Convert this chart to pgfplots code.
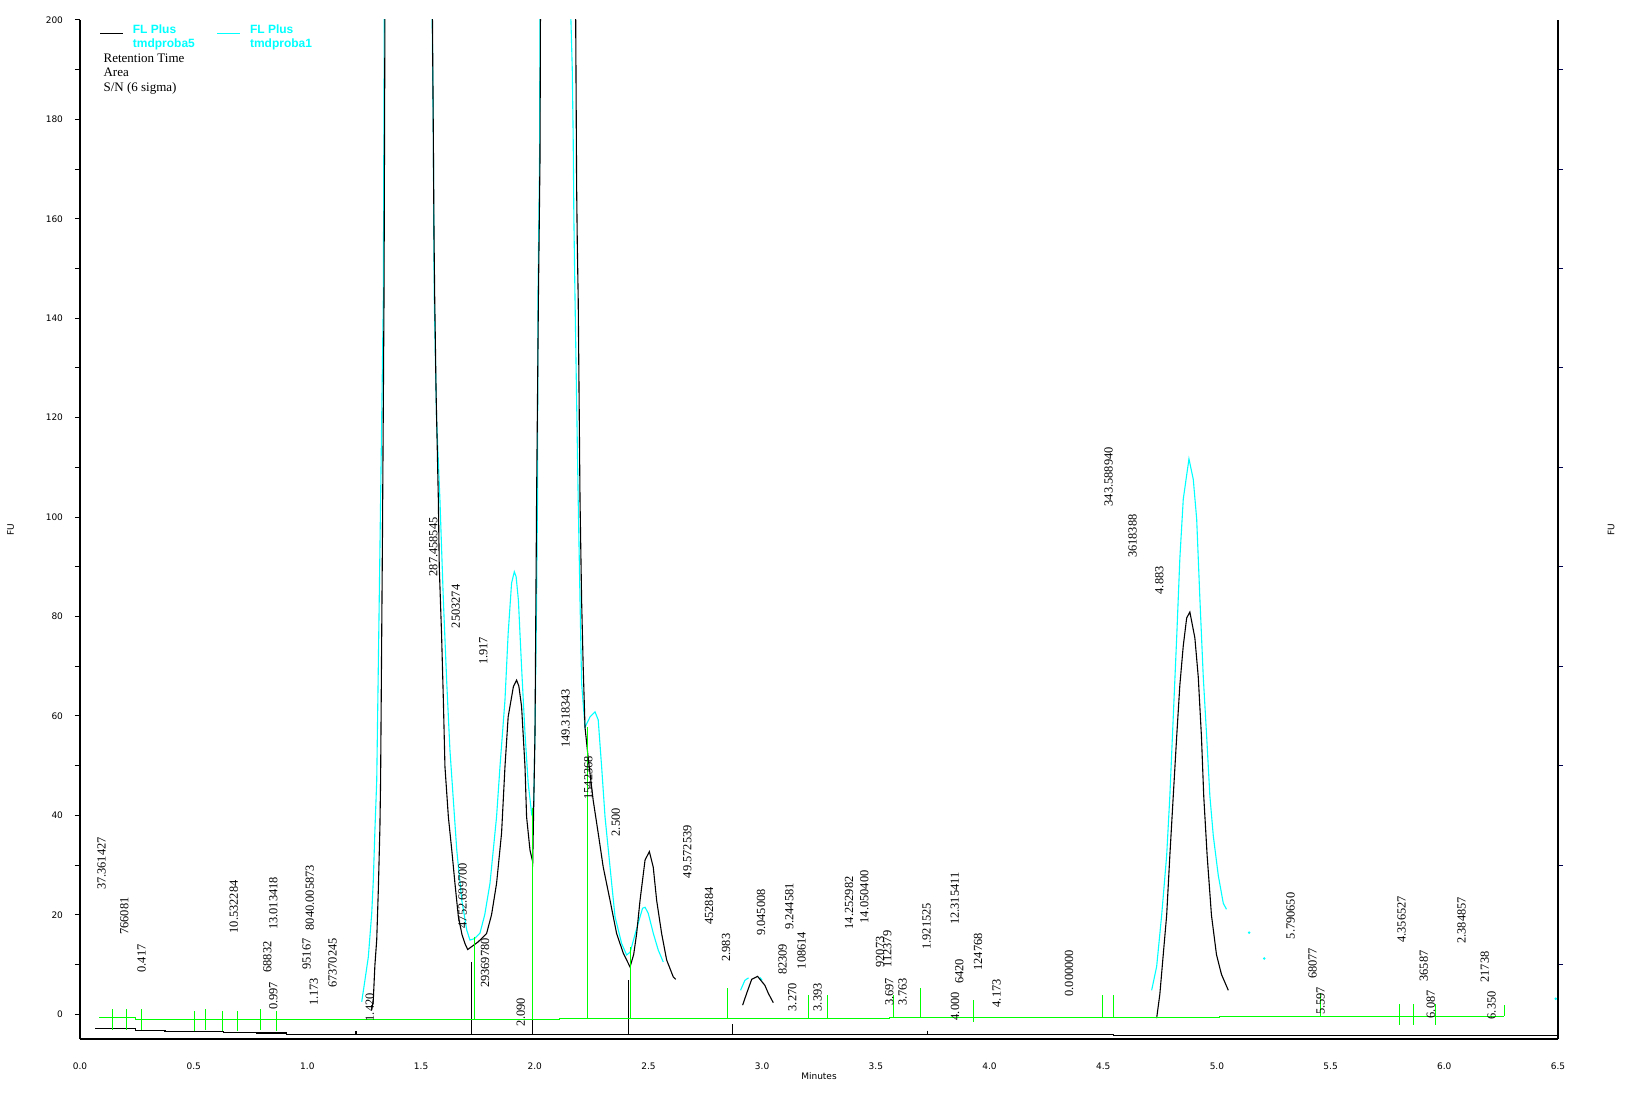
\documentclass[border=0pt]{standalone}
\usepackage{fontspec}
\setmainfont{Liberation Serif}
\newfontfamily\tickfont{DejaVu Sans}
\newfontfamily\legfont{Liberation Sans}
\usepackage{pgfplots}
\pgfplotsset{compat=1.18}
\definecolor{cy}{RGB}{0,255,255}
\definecolor{gr}{RGB}{0,255,0}

\newcommand\annfont{\fontsize{6.2bp}{7bp}\selectfont}
\newcommand\smallfont{\tickfont\fontsize{4.5bp}{5bp}\selectfont}
% rotated peak annotation: x, y of text start, text
\newcommand\ann[3]{\node[rotate=90,anchor=west,inner sep=0pt,font=\annfont] at (axis cs:#1,#2) {#3};}

\begin{document}
\begin{tikzpicture}
\path[use as bounding box] (0,0) rectangle (813bp,546.5bp);

% right hand axis (ticks only)
\begin{axis}[
  at={(40bp,27bp)}, anchor=south west,
  scale only axis, width=739bp, height=509.5bp,
  xmin=0, xmax=6.5, ymin=-5, ymax=200,
  axis y line*=right, hide x axis,
  axis line style={line width=0.8bp},
  ytick={10,30,50,70,90,110,130,150,170,190}, yticklabels={},
  tick align=outside, major tick length=2.5bp,
  tick style={line width=0.5bp, color=black!70!blue},
]
\addplot[draw=none] coordinates {(0,0)};
\end{axis}

\begin{axis}[
  at={(40bp,27bp)}, anchor=south west,
  scale only axis, width=739bp, height=509.5bp,
  xmin=0, xmax=6.5, ymin=-5, ymax=200,
  axis x line*=bottom, axis y line*=left,
  axis line style={line width=0.8bp},
  clip mode=individual,
  xtick={0,0.5,1,1.5,2,2.5,3,3.5,4,4.5,5,5.5,6,6.5},
  xticklabels={0.0,0.5,1.0,1.5,2.0,2.5,3.0,3.5,4.0,4.5,5.0,5.5,6.0,6.5},
  ytick={0,20,40,60,80,100,120,140,160,180,200},
  yticklabels={0,20,40,60,80,100,120,140,160,180,200},
  minor ytick={10,30,50,70,90,110,130,150,170,190},
  tick align=outside, major tick length=2.5bp, minor tick length=2.5bp,
  xtick style={draw=none},
  tick style={line width=0.5bp, black},
  ticklabel style={font=\smallfont},
  xticklabel style={yshift=-6bp},
  yticklabel style={xshift=-2.5bp},
  legend columns=2,
  legend style={at={(axis cs:0.085,200)}, anchor=north west, draw=none, fill=none,
    inner sep=0pt, cells={anchor=base west},
    font=\legfont\bfseries\fontsize{6bp}{6.7bp}\selectfont, text=cy,
    /tikz/every even column/.append style={column sep=9bp}},
  legend image code/.code={\path[draw=none,fill=none] (0bp,0bp) rectangle (14.3bp,5bp);
    \draw[#1, line width=0.6bp] (0bp,0bp) -- (11.5bp,0bp);},
]
\addlegendimage{black}
\addlegendentry{\begin{tabular}[t]{@{}l@{}}FL Plus\\tmdproba5\end{tabular}}
\addlegendimage{cy}
\addlegendentry{\begin{tabular}[t]{@{}l@{}}FL Plus\\tmdproba1\end{tabular}}

% ---- tmdproba1 (cyan)
\addplot[cy, line width=0.55bp, forget plot] coordinates {
(1.239,2.5) (1.253,6.8) (1.268,11.5) (1.283,20.3) (1.290,27) (1.297,37) (1.305,47)
(1.318,90) (1.334,144) (1.338,200) (1.342,300) (1.45,400) (1.545,300) (1.549,200)
(1.554,176) (1.556,156) (1.558,144) (1.568,120) (1.583,103.4) (1.598,83.3)
(1.613,66.6) (1.627,53.1) (1.642,43) (1.657,33) (1.679,22.9) (1.701,16.9)
(1.715,14.9) (1.735,15.2) (1.759,16.3) (1.780,20) (1.803,26.3) (1.832,39.7)
(1.847,49.8) (1.869,63.2) (1.883,76.6) (1.898,86.7) (1.910,89) (1.918,88)
(1.928,83.3) (1.942,69.8) (1.957,56.5) (1.971,46.5) (1.986,40.4) (1.995,42)
(2.001,56.5) (2.008,83.3) (2.012,103.4) (2.014,144) (2.021,172) (2.023,200)
(2.03,300) (2.1,400) (2.155,300) (2.159,200) (2.165,190) (2.169,176) (2.172,160)
(2.177,144) (2.191,103.4) (2.199,83.3) (2.206,66.6) (2.221,57.7) (2.243,59.8)
(2.265,60.8) (2.279,59.2) (2.294,49.8) (2.309,39.7) (2.331,29.6) (2.353,19.6)
(2.382,14.2) (2.404,11.9) (2.420,12.5) (2.434,14.9) (2.455,18.3) (2.474,21.3)
(2.485,21.5) (2.499,20.3) (2.521,16.3) (2.543,12.9) (2.565,10.5)
};
\addplot[cy, line width=0.55bp, forget plot] coordinates {
(2.905,4.8) (2.924,6.8) (2.940,7.3)
};
\addplot[cy, line width=0.55bp, forget plot] coordinates {
(2.990,7.4) (3.000,6.8)
};
\addplot[cy, line width=0.55bp, forget plot] coordinates {
(4.713,4.8) (4.735,9.6) (4.757,19.9) (4.779,31.9) (4.793,43.9) (4.808,59.8)
(4.823,75.7) (4.837,91.7) (4.852,103.6) (4.877,111.7) (4.896,107.6) (4.911,99.6)
(4.925,83.7) (4.940,67.8) (4.955,55.8) (4.969,43.9) (4.984,35.9) (5.006,27.9)
(5.028,22.3) (5.042,21.1)
};
\addplot[cy, only marks, mark=*, mark size=0.4bp, forget plot] coordinates {
(5.142,16.4) (5.208,11.2) (6.49,3.1)
};

% ---- tmdproba5 (black)
\addplot[black, line width=0.55bp, forget plot] coordinates {
(1.283,0.8) (1.290,3) (1.297,9.9) (1.305,15) (1.312,25) (1.319,37.6) (1.322,47)
(1.330,95) (1.337,144) (1.341,200) (1.345,300) (1.45,400) (1.546,300) (1.550,200)
(1.554,176) (1.557,156) (1.560,144) (1.566,125) (1.576,103.4) (1.580,90)
(1.590,76.6) (1.598,63.2) (1.605,49.8) (1.620,39.7) (1.635,33) (1.649,26.3)
(1.664,19.6) (1.680,16) (1.693,14.2) (1.705,13) (1.720,13.5) (1.750,14.5)
(1.788,16.2) (1.810,20) (1.832,26.3) (1.854,36.4) (1.869,49.8) (1.883,59.8)
(1.906,65.9) (1.920,67.2) (1.930,66) (1.942,61.9) (1.957,49.8) (1.964,39.7)
(1.979,33) (1.991,30.6) (2.001,56.5) (2.008,103.4) (2.016,144) (2.023,172)
(2.025,200) (2.03,300) (2.1,400) (2.176,300) (2.180,200) (2.184,167) (2.187,155)
(2.191,144) (2.199,103.4) (2.206,83.3) (2.213,69.8) (2.221,57.7) (2.236,51.1)
(2.257,43) (2.279,36.4) (2.301,29.6) (2.331,22.9) (2.360,16.2) (2.389,12.3)
(2.419,9.5) (2.435,12) (2.448,16.2) (2.463,22.9) (2.485,31) (2.504,32.7)
(2.521,29.6) (2.536,22.9) (2.558,16.2) (2.580,10.9) (2.609,7.5) (2.620,7.0)
};
\addplot[black, line width=0.55bp, forget plot] coordinates {
(2.914,1.8) (2.932,4.2) (2.954,7.0) (2.980,7.6) (3.012,5.8) (3.027,4.2) (3.049,2.3)
};
\addplot[black, line width=0.55bp, forget plot] coordinates {
(4.735,-0.8) (4.749,4.0) (4.764,12.0) (4.779,19.9) (4.793,31.9) (4.808,43.9)
(4.823,55.8) (4.837,66.2) (4.852,74.1) (4.867,79.7) (4.881,80.9) (4.903,75.7)
(4.918,67.8) (4.932,55.8) (4.942,43.9) (4.957,31.9) (4.976,19.9) (4.998,12.0)
(5.020,8.0) (5.050,4.8)
};
% black integration baseline and drop lines
\addplot[black, line width=0.55bp, const plot, forget plot] coordinates {
(0.066,-2.9) (0.246,-3.2) (0.374,-3.5) (0.630,-3.7) (0.777,-3.8) (0.909,-4.1)
(4.544,-4.3) (6.5,-4.3)
};
\addplot[black, line width=0.55bp, unbounded coords=jump, forget plot] coordinates {
(1.214,-3.4) (1.214,-4.1) (1.214,nan)
(1.722,10.5) (1.722,-4.1) (1.722,nan)
(1.989,30.6) (1.989,-4.1) (1.989,nan)
(2.413,6.8) (2.413,-4.1) (2.413,nan)
(2.869,-2.0) (2.869,-4.1) (2.869,nan)
(3.726,-3.3) (3.726,-4.1)
};

% ---- green baseline and peak markers
\addplot[gr, line width=0.55bp, const plot, forget plot] coordinates {
(0.085,-0.7) (0.246,-1.07) (2.11,-0.87) (3.56,-0.67) (5.01,-0.4) (6.263,-0.4)
};
\addplot[gr, line width=0.55bp, unbounded coords=jump, forget plot] coordinates {
(0.143,1.0) (0.143,-3.1) (0.143,nan)
(0.205,1.0) (0.205,-3.1) (0.205,nan)
(0.271,1.0) (0.271,-3.1) (0.271,nan)
(0.503,0.6) (0.503,-3.4) (0.503,nan)
(0.553,1.0) (0.553,-3.1) (0.553,nan)
(0.626,0.6) (0.626,-3.4) (0.626,nan)
(0.692,0.6) (0.692,-3.4) (0.692,nan)
(0.793,1.0) (0.793,-3.1) (0.793,nan)
(0.865,0.6) (0.865,-3.4) (0.865,nan)
(1.734,15.6) (1.734,-1.07) (1.734,nan)
(1.989,41.4) (1.989,-1.07) (1.989,nan)
(2.232,57.8) (2.232,-0.87) (2.232,nan)
(2.420,13.5) (2.420,-0.87) (2.420,nan)
(2.847,5.2) (2.847,-0.87) (2.847,nan)
(3.203,3.8) (3.203,-0.87) (3.203,nan)
(3.286,3.8) (3.286,-0.87) (3.286,nan)
(3.577,3.8) (3.577,-0.67) (3.577,nan)
(3.695,5.2) (3.695,-0.67) (3.695,nan)
(3.928,2.8) (3.928,-1.5) (3.928,nan)
(4.497,3.8) (4.497,-0.67) (4.497,nan)
(4.544,3.8) (4.544,-0.67) (4.544,nan)
(5.457,4.2) (5.457,-0.4) (5.457,nan)
(5.802,2.0) (5.802,-2.2) (5.802,nan)
(5.863,2.0) (5.863,-2.2) (5.863,nan)
(5.963,2.0) (5.963,-2.2) (5.963,nan)
(6.263,1.8) (6.263,-0.4)
};

% ---- peak annotations
\ann{0.095}{24.9}{37.361427}
\ann{0.195}{15.9}{766081}
\ann{0.271}{8.3}{0.417}
\ann{0.677}{16.2}{10.532284}
\ann{0.824}{8.3}{68832}
\ann{0.850}{16.9}{13.013418}
\ann{0.850}{0.8}{0.997}
\ann{0.997}{8.9}{95167}
\ann{1.011}{16.8}{8040.005873}
\ann{1.029}{1.6}{1.173}
\ann{1.111}{5.2}{67370245}
\ann{1.275}{-1.5}{1.420}
\ann{1.554}{88.0}{287.458545}
\ann{1.653}{77.6}{2503274}
\ann{1.774}{70.2}{1.917}
\ann{1.683}{17.2}{4752.699700}
\ann{1.781}{5.2}{29369780}
\ann{1.939}{-2.5}{2.090}
\ann{2.136}{53.5}{149.318343}
\ann{2.236}{43.1}{1542368}
\ann{2.357}{35.7}{2.500}
\ann{2.671}{27.3}{49.572539}
\ann{2.767}{17.9}{452884}
\ann{2.841}{10.5}{2.983}
\ann{2.995}{15.7}{9.045008}
\ann{3.090}{7.8}{82309}
\ann{3.119}{16.9}{9.244581}
\ann{3.133}{0.5}{3.270}
\ann{3.173}{9.0}{108614}
\ann{3.244}{0.5}{3.393}
\ann{3.382}{17.0}{14.252982}
\ann{3.449}{18.2}{14.050400}
\ann{3.518}{9.3}{92073}
\ann{3.550}{9.3}{112379}
\ann{3.559}{1.6}{3.697}
\ann{3.618}{1.6}{3.763}
\ann{3.723}{12.9}{1.921525}
\ann{3.848}{17.9}{12.315411}
\ann{3.867}{6.0}{6420}
\ann{3.848}{-1.3}{4.000}
\ann{3.950}{8.7}{124768}
\ann{4.031}{1.3}{4.173}
\ann{4.350}{3.5}{0.000000}
\ann{4.524}{102.1}{343.588940}
\ann{4.629}{91.7}{3618388}
\ann{4.747}{84.4}{4.883}
\ann{5.324}{15.0}{5.790650}
\ann{5.421}{7.0}{68077}
\ann{5.456}{-0.2}{5.597}
\ann{5.812}{14.3}{4.356527}
\ann{5.910}{6.5}{36587}
\ann{5.941}{-0.9}{6.087}
\ann{6.076}{14.1}{2.384857}
\ann{6.178}{6.3}{21738}
\ann{6.208}{-1.1}{6.350}

% ---- legend extra lines and axis titles
\node[anchor=base west, inner sep=0pt, font=\annfont\fontsize{6.5bp}{7bp}\selectfont] at (axis cs:0.102,191.5) {Retention Time};
\node[anchor=base west, inner sep=0pt, font=\annfont\fontsize{6.5bp}{7bp}\selectfont] at (axis cs:0.102,188.6) {Area};
\node[anchor=base west, inner sep=0pt, font=\annfont\fontsize{6.5bp}{7bp}\selectfont] at (axis cs:0.102,185.6) {S/N (6 sigma)};
\node[font=\smallfont, inner sep=0pt] at (axis description cs:0.5,0) [yshift=-18.5bp] {Minutes};
\node[font=\smallfont, inner sep=0pt, rotate=90] at (axis description cs:-0.047,0.5) {FU};
\node[font=\smallfont, inner sep=0pt, rotate=90] at (axis description cs:1.036,0.5) {FU};
\end{axis}
\end{tikzpicture}
\end{document}
